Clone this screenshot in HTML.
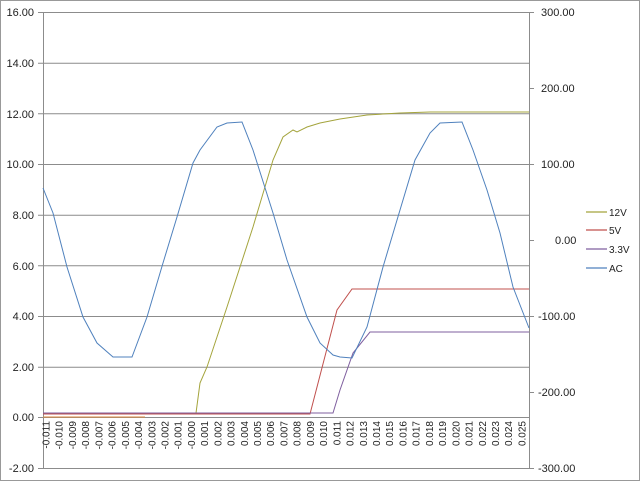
<!DOCTYPE html>
<html><head><style>
body{margin:0;background:#fff}
svg{display:block;font-family:"Liberation Sans",sans-serif}
</style></head><body>
<svg width="640" height="481" xmlns="http://www.w3.org/2000/svg">
<rect x="0.5" y="0.5" width="639" height="480" fill="#fff" stroke="#999"/>
<g stroke="#8c8c8c" stroke-width="1">
<line x1="38" y1="12.5" x2="529" y2="12.5"/>
<line x1="38" y1="63.2" x2="529" y2="63.2"/>
<line x1="38" y1="113.8" x2="529" y2="113.8"/>
<line x1="38" y1="164.5" x2="529" y2="164.5"/>
<line x1="38" y1="215.2" x2="529" y2="215.2"/>
<line x1="38" y1="265.8" x2="529" y2="265.8"/>
<line x1="38" y1="316.5" x2="529" y2="316.5"/>
<line x1="38" y1="367.2" x2="529" y2="367.2"/>
<line x1="38" y1="417.5" x2="529" y2="417.5"/>
<line x1="38" y1="468.5" x2="529" y2="468.5"/>
<line x1="43.5" y1="12" x2="43.5" y2="468"/>
<line x1="529.5" y1="12" x2="529.5" y2="468"/>
<line x1="529" y1="12.5" x2="534" y2="12.5"/>
<line x1="529" y1="88.5" x2="534" y2="88.5"/>
<line x1="529" y1="164.5" x2="534" y2="164.5"/>
<line x1="529" y1="240.5" x2="534" y2="240.5"/>
<line x1="529" y1="316.5" x2="534" y2="316.5"/>
<line x1="529" y1="392.5" x2="534" y2="392.5"/>
<line x1="529" y1="468.5" x2="534" y2="468.5"/>
</g>
<g font-size="11" fill="#222" text-anchor="end">
<text x="34" y="16">16.00</text><text x="34" y="67">14.00</text><text x="34" y="118">12.00</text>
<text x="34" y="168">10.00</text><text x="34" y="219">8.00</text><text x="34" y="270">6.00</text>
<text x="34" y="320">4.00</text><text x="34" y="371">2.00</text><text x="34" y="421">0.00</text>
<text x="34" y="472">-2.00</text>
</g>
<g font-size="11" fill="#222">
<text x="541" y="16">300.00</text><text x="541" y="92">200.00</text><text x="541" y="168">100.00</text>
<text x="555" y="244">0.00</text><text x="538" y="320">-100.00</text><text x="538" y="396">-200.00</text>
<text x="538" y="472">-300.00</text>
</g>
<g font-size="10" fill="#222" text-anchor="end">
<text transform="translate(49.5,421) rotate(-90)">-0.011</text>
<text transform="translate(62.7,421) rotate(-90)">-0.010</text>
<text transform="translate(75.9,421) rotate(-90)">-0.009</text>
<text transform="translate(89.2,421) rotate(-90)">-0.008</text>
<text transform="translate(102.4,421) rotate(-90)">-0.007</text>
<text transform="translate(115.6,421) rotate(-90)">-0.006</text>
<text transform="translate(128.8,421) rotate(-90)">-0.005</text>
<text transform="translate(142.0,421) rotate(-90)">-0.004</text>
<text transform="translate(155.3,421) rotate(-90)">-0.003</text>
<text transform="translate(168.5,421) rotate(-90)">-0.002</text>
<text transform="translate(181.7,421) rotate(-90)">-0.001</text>
<text transform="translate(194.9,421) rotate(-90)">-0.000</text>
<text transform="translate(208.1,421) rotate(-90)">0.001</text>
<text transform="translate(221.4,421) rotate(-90)">0.002</text>
<text transform="translate(234.6,421) rotate(-90)">0.003</text>
<text transform="translate(247.8,421) rotate(-90)">0.004</text>
<text transform="translate(261.0,421) rotate(-90)">0.005</text>
<text transform="translate(274.2,421) rotate(-90)">0.006</text>
<text transform="translate(287.5,421) rotate(-90)">0.007</text>
<text transform="translate(300.7,421) rotate(-90)">0.008</text>
<text transform="translate(313.9,421) rotate(-90)">0.009</text>
<text transform="translate(327.1,421) rotate(-90)">0.010</text>
<text transform="translate(340.3,421) rotate(-90)">0.011</text>
<text transform="translate(353.6,421) rotate(-90)">0.012</text>
<text transform="translate(366.8,421) rotate(-90)">0.013</text>
<text transform="translate(380.0,421) rotate(-90)">0.014</text>
<text transform="translate(393.2,421) rotate(-90)">0.015</text>
<text transform="translate(406.4,421) rotate(-90)">0.016</text>
<text transform="translate(419.7,421) rotate(-90)">0.017</text>
<text transform="translate(432.9,421) rotate(-90)">0.018</text>
<text transform="translate(446.1,421) rotate(-90)">0.019</text>
<text transform="translate(459.3,421) rotate(-90)">0.020</text>
<text transform="translate(472.5,421) rotate(-90)">0.021</text>
<text transform="translate(485.8,421) rotate(-90)">0.022</text>
<text transform="translate(499.0,421) rotate(-90)">0.023</text>
<text transform="translate(512.2,421) rotate(-90)">0.024</text>
<text transform="translate(525.4,421) rotate(-90)">0.025</text>
</g>
<polyline fill="none" stroke="#e08a3c" stroke-width="1" points="43,417 145,417"/>
<polyline fill="none" stroke="#a4a43c" stroke-width="1" points="43,414 196,414 196,413 200,383 207,367 227,307 253,227 273,160 283,137 293,130 297,132 307,127 320,123 340,119 367,115 400,113 430,112 529,112"/>
<polyline fill="none" stroke="#c0504d" stroke-width="1" points="43,414 310,414 337,310 352,289 529,289"/>
<polyline fill="none" stroke="#7f5f9f" stroke-width="1" points="43,413 333,413 340,390 353,353 370,332 529,332"/>
<polyline fill="none" stroke="#4f81bd" stroke-width="1" points="43,188 53,213 67,267 83,317 97,343 113,357 132,357 147,317 163,263 177,217 193,163 200,150 217,127 227,123 242,122 253,150 273,213 287,260 307,317 320,343 333,355 340,357 352,358 367,327 383,267 400,210 415,160 430,133 440,123 462,122 473,150 487,190 500,233 513,287 529,328"/>
<g stroke-width="1.2">
<line x1="586" y1="212" x2="607" y2="212" stroke="#a4a43c"/>
<line x1="586" y1="230" x2="607" y2="230" stroke="#c0504d"/>
<line x1="586" y1="249" x2="607" y2="249" stroke="#7f5f9f"/>
<line x1="586" y1="268" x2="607" y2="268" stroke="#4f81bd"/>
</g>
<g font-size="10" fill="#222">
<text x="609" y="216">12V</text><text x="609" y="234">5V</text><text x="609" y="253">3.3V</text><text x="609" y="272">AC</text>
</g>
</svg>
</body></html>
